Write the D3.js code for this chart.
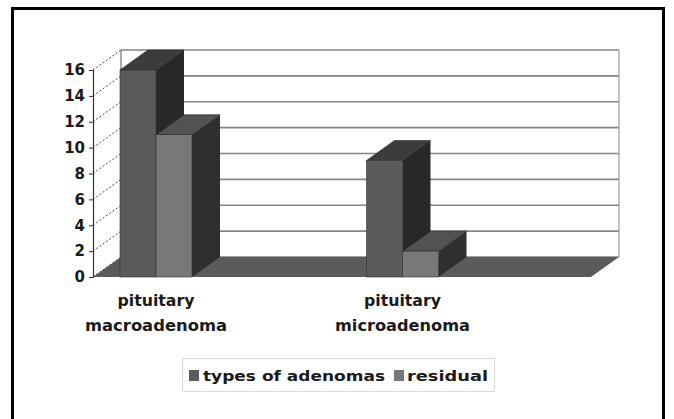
<!DOCTYPE html>
<html>
<head>
<meta charset="utf-8">
<script src="https://cdn.jsdelivr.net/npm/d3@7"></script>
<style>
  body { margin: 0; background: #fff; }
  svg { display: block; }
  text { font-family: "DejaVu Sans", Verdana, sans-serif; fill: #1a1a1a; }
</style>
</head>
<body>
<svg id="chart"></svg>
<script>
const categories = [["pituitary", "macroadenoma"], ["pituitary", "microadenoma"]];
const seriesNames = ["types of adenomas", "residual"];
const typesOfAdenomas = [16, 9];
const residual = [11, 2];
const yTicks = [0, 2, 4, 6, 8, 10, 12, 14, 16];

const width = 674, height = 419;
const depth = { dx: 28, dy: -20 };
const floorLeft = 93, floorRight = 591;

const svg = d3.select("#chart").attr("width", width).attr("height", height);

svg.append("rect")
  .attr("x", 12.5).attr("y", 8.5)
  .attr("width", 651).attr("height", 430)
  .attr("fill", "#fff").attr("stroke", "#000").attr("stroke-width", 3);

const catKeys = categories.map((c) => c.join(" "));

const x0 = d3.scalePoint().domain(catKeys).range([156, 402.5]);
const x1 = d3.scaleBand().domain(seriesNames).range([-36, 36]);
const y = d3.scaleLinear().domain([0, 16]).range([277, 70]);

const colors = {
  "types of adenomas": { front: "#5a5a5a", top: "#3c3c3c", side: "#282828" },
  residual: { front: "#787878", top: "#525252", side: "#2f2f2f" },
};

// back wall gridlines
svg.append("g")
  .selectAll("line")
  .data(yTicks)
  .enter()
  .append("line")
  .attr("x1", floorLeft + depth.dx)
  .attr("x2", floorRight + depth.dx)
  .attr("y1", (d) => y(d) + depth.dy)
  .attr("y2", (d) => y(d) + depth.dy)
  .attr("stroke", "#858585")
  .attr("stroke-width", 1.6);

// back wall edges
svg.append("line")
  .attr("x1", floorRight + depth.dx).attr("x2", floorRight + depth.dx)
  .attr("y1", y(16) + depth.dy).attr("y2", y(0) + depth.dy)
  .attr("stroke", "#9a9a9a").attr("stroke-width", 1.2);
svg.append("line")
  .attr("x1", floorLeft + depth.dx).attr("x2", floorLeft + depth.dx)
  .attr("y1", y(16) + depth.dy).attr("y2", y(0) + depth.dy)
  .attr("stroke", "#555").attr("stroke-width", 1);

// floor
svg.append("path")
  .attr("d", d3.line()([
    [floorLeft, y(0)], [floorRight, y(0)],
    [floorRight + depth.dx, y(0) + depth.dy], [floorLeft + depth.dx, y(0) + depth.dy],
  ]) + "Z")
  .attr("fill", "#5b5b5b");

// dashed depth lines from axis to wall
svg.append("g")
  .selectAll("line")
  .data(yTicks)
  .enter()
  .append("line")
  .attr("x1", floorLeft).attr("x2", floorLeft + depth.dx)
  .attr("y1", (d) => y(d)).attr("y2", (d) => y(d) + depth.dy)
  .attr("stroke", "#444").attr("stroke-width", 1)
  .attr("stroke-dasharray", "2,2");

// y axis
const axis = svg.append("g")
  .attr("transform", `translate(${floorLeft},0)`)
  .call(d3.axisLeft(y).tickValues(yTicks).tickSize(4).tickPadding(4));
axis.select(".domain").attr("stroke", "#333").attr("stroke-width", 1.2);
axis.selectAll(".tick line").attr("stroke", "#333");
axis.selectAll("text")
  .attr("font-size", 15).attr("font-weight", "bold")
  .attr("font-family", "DejaVu Sans").attr("fill", "#1a1a1a");

// bars
const barData = [];
catKeys.forEach((c, i) => {
  barData.push({ cat: c, series: seriesNames[0], value: typesOfAdenomas[i] });
  barData.push({ cat: c, series: seriesNames[1], value: residual[i] });
});

const bars = svg.append("g")
  .selectAll("g")
  .data(barData)
  .enter()
  .append("g");

const pathOf = (pts) => d3.line()(pts) + "Z";

bars.append("path")
  .attr("d", (d) => {
    const xl = x0(d.cat) + x1(d.series), xr = xl + x1.bandwidth();
    return pathOf([
      [xr, y(d.value)], [xr + depth.dx, y(d.value) + depth.dy],
      [xr + depth.dx, y(0) + depth.dy], [xr, y(0)],
    ]);
  })
  .attr("fill", (d) => colors[d.series].side);

bars.append("path")
  .attr("d", (d) => {
    const xl = x0(d.cat) + x1(d.series), xr = xl + x1.bandwidth();
    return pathOf([
      [xl, y(d.value)], [xl + depth.dx, y(d.value) + depth.dy],
      [xr + depth.dx, y(d.value) + depth.dy], [xr, y(d.value)],
    ]);
  })
  .attr("fill", (d) => colors[d.series].top)
  .attr("stroke", "#222").attr("stroke-width", 0.6);

bars.append("rect")
  .attr("x", (d) => x0(d.cat) + x1(d.series))
  .attr("y", (d) => y(d.value))
  .attr("width", x1.bandwidth())
  .attr("height", (d) => y(0) - y(d.value))
  .attr("fill", (d) => colors[d.series].front)
  .attr("stroke", "#333").attr("stroke-width", 0.6);

// category labels
const labelWidths = [[77, 142], [77, 135]];
const catLabels = svg.append("g")
  .selectAll("text")
  .data(categories)
  .enter()
  .append("text")
  .attr("text-anchor", "middle")
  .attr("font-size", 15)
  .attr("font-weight", "bold");

catLabels.each(function (d, i) {
  d3.select(this)
    .selectAll("tspan")
    .data(d)
    .enter()
    .append("tspan")
    .attr("x", x0(catKeys[i]))
    .attr("y", (t, j) => 306 + j * 25)
    .attr("textLength", (t, j) => labelWidths[i][j])
    .attr("lengthAdjust", "spacingAndGlyphs")
    .text((t) => t);
});

// legend
const legend = svg.append("g");
legend.append("rect")
  .attr("x", 182.5).attr("y", 358.5)
  .attr("width", 312).attr("height", 33)
  .attr("fill", "#fff").attr("stroke", "#c8c8c8")
  .attr("stroke-dasharray", "2,1");

const legendItems = [
  { name: seriesNames[0], sx: 189, tx: 203, tw: 182 },
  { name: seriesNames[1], sx: 394, tx: 407, tw: 81 },
];

legend.selectAll("rect.sw")
  .data(legendItems)
  .enter()
  .append("rect")
  .attr("class", "sw")
  .attr("x", (d) => d.sx).attr("y", 370)
  .attr("width", 10).attr("height", 11)
  .attr("fill", (d) => colors[d.name].front);

legend.selectAll("text")
  .data(legendItems)
  .enter()
  .append("text")
  .attr("x", (d) => d.tx).attr("y", 381)
  .attr("font-size", 14.5).attr("font-weight", "bold")
  .attr("textLength", (d) => d.tw)
  .attr("lengthAdjust", "spacingAndGlyphs")
  .text((d) => d.name);
</script>
</body>
</html>
